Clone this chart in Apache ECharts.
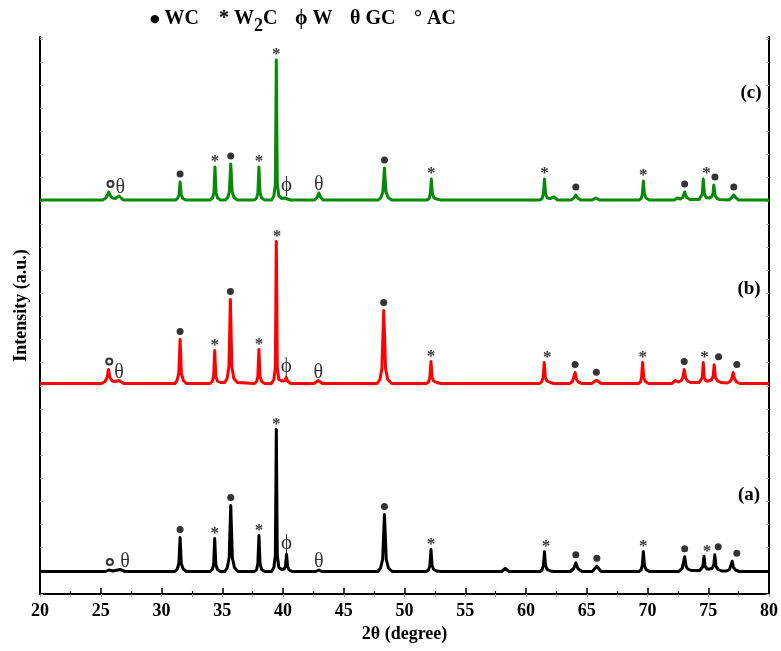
<!DOCTYPE html>
<html>
<head>
<meta charset="utf-8">
<script src="https://cdn.jsdelivr.net/npm/echarts@6/dist/echarts.min.js"></script>
<style>
  html, body { margin: 0; padding: 0; background: #fff; }
  #chart { width: 781px; height: 651px; }
</style>
</head>
<body>
<div id="chart"></div>
<script>
// 2θ range of the scan
const twoThetaRange = [20, 80];

// Diffraction patterns: [2θ (deg), intensity above the pattern's own baseline (a.u.)]
const patternA = [
  [20,0],[25.4,0],[25.67,1.5],[26.0,0.5],[26.6,2],[27.0,0],
  [31.1,0],[31.3,2.5],[31.43,8],[31.53,34],[31.63,8],[31.78,2.5],[32.05,0],
  [34.0,0],[34.18,2],[34.29,7],[34.38,33],[34.47,7],[34.6,2],[34.85,0],
  [35.2,0],[35.42,4],[35.57,14],[35.7,66],[35.83,14],[36.0,4],[36.3,0],
  [37.65,0],[37.83,2],[37.93,8],[38.02,36],[38.11,8],[38.24,2],[38.5,0],
  [39.05,0],[39.25,4],[39.37,16],[39.45,142],[39.53,16],[39.66,4],[39.9,2],[40.1,2.5],[40.2,5],[40.29,17],[40.38,5],[40.5,1.5],[40.75,0],
  [42.7,0],[42.95,1.5],[43.2,0],
  [47.8,0],[48.03,3.5],[48.2,12],[48.35,57],[48.5,12],[48.68,3.5],[49.0,0],
  [51.8,0],[51.98,1.5],[52.09,6],[52.18,22],[52.27,6],[52.4,2],[52.65,0.5],[53.0,0],
  [58.0,0],[58.29,3],[58.6,0],
  [61.15,0],[61.32,1.5],[61.43,6],[61.52,19.7],[61.61,6],[61.75,2],[62.0,0.5],[62.3,0],
  [63.65,0],[63.93,3],[64.1,8.7],[64.27,3],[64.6,0],
  [65.45,0],[65.83,5.3],[66.2,0],
  [69.3,0],[69.47,1.5],[69.57,6],[69.66,20],[69.75,6],[69.88,2],[70.15,0],
  [72.55,0],[72.85,3],[72.95,5],[73.06,14.7],[73.18,5],[73.32,2.5],[73.6,1],
  [74.3,1],[74.45,2.5],[74.56,5],[74.65,15.3],[74.74,5],[74.9,2.5],[75.1,2.5],[75.3,3],[75.45,6],[75.54,16.7],[75.64,5],[75.82,2],[76.1,0.5],
  [76.5,0.5],[76.75,2],[76.87,4],[76.97,10.3],[77.08,4],[77.25,1.5],[77.55,0],[80,0]
];

const patternB = [
  [20,0],[25.05,0],[25.35,2],[25.52,6],[25.64,14],[25.76,6],[25.95,2.5],[26.2,2],[26.5,3],[26.9,0],
  [31.1,0],[31.28,3],[31.42,10],[31.53,44],[31.64,10],[31.8,3],[32.05,0],
  [34.0,0],[34.18,2],[34.29,7],[34.38,33],[34.47,7],[34.6,2.5],[34.85,1],
  [35.2,1],[35.4,5],[35.55,17],[35.67,84],[35.79,17],[35.95,5],[36.25,1],
  [37.65,0],[37.83,2],[37.93,7],[38.02,34],[38.11,7],[38.24,2],[38.5,0],
  [39.05,0],[39.25,4],[39.37,16],[39.45,142],[39.53,16],[39.66,4],[39.9,2.5],[40.15,3],[40.27,6],[40.4,2],[40.65,0],
  [42.55,0],[42.9,3],[43.25,0],
  [47.75,0],[47.98,4],[48.14,15],[48.29,73],[48.44,15],[48.62,4],[48.95,0],
  [51.8,0],[51.98,1.5],[52.09,6],[52.18,22],[52.27,6],[52.4,2.5],[52.65,1],[53.0,0],
  [61.1,0],[61.28,1.5],[61.41,6],[61.5,21],[61.59,6],[61.73,2.5],[62.0,1],[62.3,0],
  [63.6,0],[63.82,2],[63.93,4],[64.04,11],[64.16,4],[64.3,1.5],[64.6,0],
  [65.4,0],[65.79,3.3],[66.2,0],
  [69.25,0],[69.42,1.5],[69.51,6],[69.6,21],[69.69,6],[69.82,2],[70.1,0],
  [72.0,0],[72.3,3],[72.55,1.5],[72.78,3],[72.9,5.5],[73.02,14],[73.14,5.5],[73.3,2.5],[73.55,1],
  [74.25,1],[74.4,2.5],[74.51,6],[74.59,21],[74.67,6],[74.82,2.5],[75.05,2.5],[75.25,3.5],[75.4,7],[75.49,18.7],[75.59,6],[75.78,2.5],[76.05,1],
  [76.55,0.5],[76.8,2],[76.93,4.5],[77.05,11],[77.18,4.5],[77.33,1.5],[77.6,0],[80,0]
];

const patternC = [
  [20,0],[25.15,0],[25.42,2],[25.56,4],[25.67,8],[25.8,4],[25.98,2],[26.2,1.5],[26.5,4],[26.85,0],
  [31.15,0],[31.32,1.5],[31.44,5],[31.53,18],[31.62,5],[31.76,1.5],[32.0,0],
  [34.0,0],[34.2,2],[34.31,7],[34.4,33],[34.49,7],[34.62,2],[34.85,0],
  [35.25,0],[35.45,2.5],[35.58,8],[35.7,36],[35.82,8],[35.97,2.5],[36.25,0],
  [37.65,0],[37.83,2],[37.93,7],[38.02,33],[38.11,7],[38.24,2],[38.5,0],
  [39.05,0],[39.25,4],[39.37,16],[39.45,140],[39.53,16],[39.66,4],[39.9,1.5],[40.15,2],[40.3,4],[40.6,0],
  [42.6,0],[42.83,3],[42.95,7],[43.08,3],[43.3,0],
  [47.85,0],[48.06,2.5],[48.22,8],[48.35,32],[48.48,8],[48.65,2.5],[48.95,0],
  [51.85,0],[52.02,1.5],[52.12,6],[52.21,21],[52.3,6],[52.43,2],[52.65,1],[53.0,0],
  [61.15,0],[61.32,1.5],[61.43,6],[61.52,21],[61.61,6],[61.75,2],[62.0,1.5],[62.3,3],[62.6,0],
  [63.7,0],[63.95,2],[64.1,5],[64.25,2],[64.5,0],
  [65.45,0],[65.74,2],[66.05,0],
  [69.3,0],[69.48,1.5],[69.57,5.5],[69.66,19],[69.75,5.5],[69.88,2],[70.15,0],
  [72.2,0],[72.45,2],[72.7,1],[72.9,2.5],[73.06,8],[73.22,2.5],[73.5,0.5],
  [74.25,0.5],[74.4,2],[74.51,6],[74.59,21],[74.68,6],[74.83,2.5],[75.05,2],[75.25,3],[75.38,5.5],[75.46,15],[75.56,4.5],[75.72,1.5],[75.95,0.5],
  [76.7,0],[76.95,2.5],[77.1,5],[77.25,2.5],[77.5,0],[80,0]
];

// Phase identification of reflections: [2θ (deg), phase]
const phasesA = [
  [25.75,'AC'],[27.0,'GC'],[31.53,'WC'],[34.38,'W2C'],[35.7,'WC'],[38.02,'W2C'],[39.45,'W2C'],
  [40.29,'W'],[42.95,'GC'],[48.35,'WC'],[52.18,'W2C'],[61.64,'W2C'],[64.1,'WC'],[65.83,'WC'],
  [69.66,'W2C'],[73.06,'WC'],[74.9,'W2C'],[75.82,'WC'],[77.35,'WC']
];
const phasesB = [
  [25.7,'AC'],[26.5,'GC'],[31.53,'WC'],[34.38,'W2C'],[35.67,'WC'],[38.02,'W2C'],[39.5,'W2C'],
  [40.27,'W'],[42.9,'GC'],[48.29,'WC'],[52.18,'W2C'],[61.75,'W2C'],[64.04,'WC'],[65.79,'WC'],
  [69.6,'W2C'],[73.02,'WC'],[74.7,'W2C'],[75.85,'WC'],[77.35,'WC']
];
const phasesC = [
  [25.8,'AC'],[26.6,'GC'],[31.53,'WC'],[34.4,'W2C'],[35.7,'WC'],[38.02,'W2C'],[39.45,'W2C'],
  [40.3,'W'],[42.95,'GC'],[48.35,'WC'],[52.21,'W2C'],[61.52,'W2C'],[64.1,'WC'],[69.66,'W2C'],
  [73.06,'WC'],[74.85,'W2C'],[75.55,'WC'],[77.1,'WC']
];

// Phase key shown above the plot
const legendPhases = ['WC', 'W2C', 'W', 'GC', 'AC'];

// Sample labels
const sampleLabels = ['(a)', '(b)', '(c)'];

// ---- layout / style ----
const SERIF = '"Times New Roman", "Liberation Serif", serif';
const Y_MAX = 557;
const Y_TICK = 23.13;
// vertical shift of each pattern so the three scans are stacked
const stackShift = { a: 22.5, b: 210.5, c: 394 };
const colors = { a: '#000000', b: '#ff0000', c: '#078a07' };
const sampleLabelPos = [[749, 495], [749, 289], [751, 93]];
const legendX = [150, 219, 295, 350, 414];

const phaseStyle = {
  WC:  { symbol: 'circle', symbolSize: 7, symbolOffset: [0, -8], itemStyle: { color: '#000' }, label: { show: false } },
  AC:  { symbol: 'emptyCircle', symbolSize: 6, symbolOffset: [0, -8], itemStyle: { color: '#000', borderColor: '#222', borderWidth: 0.8 }, label: { show: false } },
  W2C: { symbol: 'circle', symbolSize: 0, label: { show: true, formatter: '*', fontSize: 17, fontWeight: 'bold', offset: [0, -5] } },
  GC:  { symbol: 'circle', symbolSize: 0, label: { show: true, formatter: 'θ', fontSize: 20, offset: [0, -8] } },
  W:   { symbol: 'circle', symbolSize: 0, label: { show: true, formatter: 'ϕ', fontSize: 21, offset: [0, -11] } }
};

// key text for each phase (rich-text markup)
const legendText = {
  WC:  '{dot|●} WC',
  W2C: '{ast|*} W{sub|2}C',
  W:   'ϕ W',
  GC:  'θ GC',
  AC:  '{deg|°} AC'
};

function shifted(pattern, shift) {
  return pattern.map(([x, v]) => [x, v + shift]);
}

// tag sits on the highest point of the pattern near the given 2θ
function peakTop(pattern, x) {
  let best = 0;
  pattern.forEach(([px, v]) => { if (Math.abs(px - x) <= 0.45 && v > best) best = v; });
  return best;
}

function phaseMarks(pattern, phases, shift) {
  return phases.map(([x, ph]) => {
    const st = phaseStyle[ph];
    return {
      value: [x, peakTop(pattern, x) + shift],
      symbol: st.symbol,
      symbolSize: st.symbolSize,
      symbolOffset: st.symbolOffset || [0, 0],
      itemStyle: st.itemStyle || { color: '#000' },
      label: Object.assign({
        position: 'inside', color: '#000', fontFamily: SERIF, align: 'center', verticalAlign: 'middle'
      }, st.label)
    };
  });
}

const patterns = [
  { key: 'a', data: patternA, phases: phasesA },
  { key: 'b', data: patternB, phases: phasesB },
  { key: 'c', data: patternC, phases: phasesC }
];

const series = [];
patterns.forEach(p => {
  series.push({
    type: 'line',
    name: p.key,
    data: shifted(p.data, stackShift[p.key]),
    showSymbol: false,
    lineStyle: { color: colors[p.key], width: 3, join: 'round' },
    z: 2
  });
});
patterns.forEach(p => {
  series.push({
    type: 'scatter',
    data: phaseMarks(p.data, p.phases, stackShift[p.key]),
    z: 5,
    silent: true
  });
});

const graphics = [];
legendPhases.forEach((ph, i) => {
  graphics.push({
    type: 'text', x: legendX[i], y: 19,
    style: {
      text: legendText[ph],
      font: 'bold 20px ' + SERIF,
      fill: '#000',
      textVerticalAlign: 'middle',
      rich: {
        dot: { fontFamily: 'DejaVu Sans', fontSize: 11, fontWeight: 'bold' },
        ast: { fontFamily: SERIF, fontSize: 20, fontWeight: 'bold' },
        deg: { fontFamily: SERIF, fontSize: 20, fontWeight: 'bold' },
        sub: { fontFamily: SERIF, fontSize: 18, fontWeight: 'bold', padding: [14, 0, 0, 0] }
      }
    }
  });
});
sampleLabels.forEach((t, i) => {
  graphics.push({
    type: 'text', x: sampleLabelPos[i][0], y: sampleLabelPos[i][1],
    style: { text: t, font: 'bold 19px ' + SERIF, fill: '#000', textAlign: 'center', textVerticalAlign: 'middle' }
  });
});

const chart = echarts.init(document.getElementById('chart'), null, { renderer: 'canvas' });

chart.setOption({
  animation: false,
  backgroundColor: '#fff',
  grid: { left: 40, right: 11, top: 37, bottom: 57 },
  xAxis: [
    {
      type: 'value', position: 'bottom',
      min: twoThetaRange[0], max: twoThetaRange[1], interval: 5,
      name: '2θ (degree)', nameLocation: 'middle', nameGap: 30,
      nameTextStyle: { fontFamily: SERIF, fontWeight: 'bold', fontSize: 18, color: '#000' },
      axisLine: { lineStyle: { color: '#000', width: 2 } },
      axisTick: { inside: true, length: 6, lineStyle: { color: '#000', width: 1.5 } },
      minorTick: { show: true, splitNumber: 2, length: 3, lineStyle: { color: '#000', width: 1.2 } },
      axisLabel: { fontFamily: SERIF, fontWeight: 'bold', fontSize: 18, color: '#000', margin: 8 },
      splitLine: { show: false }
    },
    {
      type: 'value', position: 'top',
      min: twoThetaRange[0], max: twoThetaRange[1], interval: 2.5,
      axisLine: { lineStyle: { color: '#000', width: 2 } },
      axisTick: { inside: true, length: 3, lineStyle: { color: '#999', width: 1 } },
      axisLabel: { show: false },
      splitLine: { show: false }
    }
  ],
  yAxis: [
    {
      type: 'value', position: 'left',
      min: 0, max: Y_MAX, interval: Y_TICK,
      name: 'Intensity (a.u.)', nameLocation: 'middle', nameGap: 10, nameRotate: 90,
      nameTextStyle: { fontFamily: SERIF, fontWeight: 'bold', fontSize: 18, color: '#000', padding: [0, 0, 0, 20] },
      axisLine: { show: true, lineStyle: { color: '#000', width: 2 } },
      axisTick: { show: true, inside: true, length: 3, lineStyle: { color: '#aaa', width: 1 } },
      axisLabel: { show: false },
      splitLine: { show: false }
    },
    {
      type: 'value', position: 'right',
      min: 0, max: Y_MAX, interval: Y_TICK,
      axisLine: { show: true, lineStyle: { color: '#000', width: 2 } },
      axisTick: { show: true, inside: true, length: 3, lineStyle: { color: '#aaa', width: 1 } },
      axisLabel: { show: false },
      splitLine: { show: false }
    }
  ],
  graphic: graphics,
  series: series
});
</script>
</body>
</html>
